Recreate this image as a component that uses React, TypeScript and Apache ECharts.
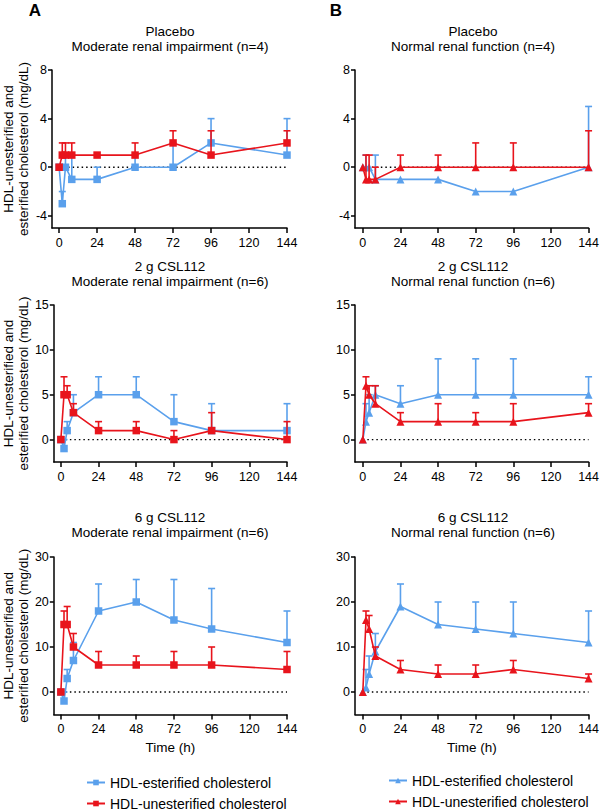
import React, { useEffect, useRef } from "react";
import * as echarts from "echarts";

const times = [0, 2, 4, 8, 24, 48, 72, 96, 144];
const xTicks = [0, 24, 48, 72, 96, 120, 144];

// Panel A (moderate renal impairment) — squares
const a1Est = [0, -3, 0, -1, -1, 0, 0, 2, 1];
const a1EstUp = [0, -2, 1, 1, 0, 1, 2, 4, 4];
const a1Unest = [0, 1, 1, 1, 1, 1, 2, 1, 2];
const a1UnestUp = [0, 2, 2, 2, 1, 2, 3, 3, 3];

const a2Est = [0, -1, 1, 3, 5, 5, 2, 1, 1];
const a2EstUp = [0, 0, 2, 5, 7, 7, 5, 4, 4];
const a2Unest = [0, 5, 5, 3, 1, 1, 0, 1, 0];
const a2UnestUp = [0, 7, 6, 4, 2, 2, 1, 3, 2];

const a3Est = [0, -2, 3, 7, 18, 20, 16, 14, 11];
const a3EstUp = [0, 0, 5, 11, 24, 25, 25, 23, 18];
const a3Unest = [0, 15, 15, 10, 6, 6, 6, 6, 5];
const a3UnestUp = [0, 18, 19, 13, 9, 8, 9, 10, 9];

// Panel B (normal renal function) — triangles
const b1Est = [0, 0, 0, -1, -1, -1, -2, -2, 0];
const b1EstUp = [0, 1, 0, 1, -1, -1, -2, -2, 5];
const b1Unest = [0, -1, -1, -1, 0, 0, 0, 0, 0];
const b1UnestUp = [0, 1, 1, 0, 1, 1, 2, 2, 3];

const b2Est = [0, 2, 3, 5, 4, 5, 5, 5, 5];
const b2EstUp = [0, 4, 5, 6, 6, 9, 9, 9, 7];
const b2Unest = [0, 6, 5, 4, 2, 2, 2, 2, 3];
const b2UnestUp = [0, 7, 6, 6, 3, 4, 3, 4, 4];

const b3Est = [0, 1, 4, 9, 19, 15, 14, 13, 11];
const b3EstUp = [0, 5, 8, 13, 24, 20, 20, 20, 18];
const b3Unest = [0, 16, 14, 8, 5, 4, 4, 5, 3];
const b3UnestUp = [0, 18, 17, 10, 7, 6, 6, 7, 4];

const rowYTicks = [
  [-4, 0, 4, 8],
  [0, 5, 10, 15],
  [0, 10, 20, 30],
];
const rowYMin = [-5, -2.5, -5];
const rowYMax = [8, 15, 30];

const titlesA = [
  ["Placebo", "Moderate renal impairment (n=4)"],
  ["2 g CSL112", "Moderate renal impairment (n=6)"],
  ["6 g CSL112", "Moderate renal impairment (n=6)"],
];
const titlesB = [
  ["Placebo", "Normal renal function (n=4)"],
  ["2 g CSL112", "Normal renal function (n=6)"],
  ["6 g CSL112", "Normal renal function (n=6)"],
];

const EST = "HDL-esterified cholesterol";
const UNEST = "HDL-unesterified cholesterol";

const BLUE = "#5AA0EC";
const RED = "#E8141C";
const FONT = "Liberation Sans, Arial, Helvetica, sans-serif";

const panels = [
  { col: 0, row: 0, est: a1Est, estUp: a1EstUp, un: a1Unest, unUp: a1UnestUp },
  { col: 0, row: 1, est: a2Est, estUp: a2EstUp, un: a2Unest, unUp: a2UnestUp },
  { col: 0, row: 2, est: a3Est, estUp: a3EstUp, un: a3Unest, unUp: a3UnestUp },
  { col: 1, row: 0, est: b1Est, estUp: b1EstUp, un: b1Unest, unUp: b1UnestUp },
  { col: 1, row: 1, est: b2Est, estUp: b2EstUp, un: b2Unest, unUp: b2UnestUp },
  { col: 1, row: 2, est: b3Est, estUp: b3EstUp, un: b3Unest, unUp: b3UnestUp },
];

const colLeft = [52, 355];
const colWidth = [235, 236];
const colXMin = [-4.5, -5];
const rowTop = [70, 305, 557];
const rowHeight = [158, 157, 157.5];
const titleY = [31, 266, 517];
const colCenter = [170, 473];

function errRender(color: string) {
  return (params: any, api: any) => {
    const x = api.value(0);
    const y = api.value(1);
    const up = api.value(2);
    if (!(up > y)) return null;
    const p0 = api.coord([x, y]);
    const p1 = api.coord([x, up]);
    return {
      type: "group",
      children: [
        {
          type: "line",
          shape: { x1: p0[0], y1: p0[1], x2: p1[0], y2: p1[1] },
          style: { stroke: color, lineWidth: 1.6 },
        },
        {
          type: "line",
          shape: { x1: p1[0] - 3.5, y1: p1[1], x2: p1[0] + 3.5, y2: p1[1] },
          style: { stroke: color, lineWidth: 1.6 },
        },
      ],
    };
  };
}

export default function App() {
  const ref = useRef<HTMLDivElement>(null);
  useEffect(() => {
    if (!ref.current) return;
    const chart = echarts.init(ref.current, null, { renderer: "svg" });

    const grid: any[] = [];
    const xAxis: any[] = [];
    const yAxis: any[] = [];
    const series: any[] = [];

    panels.forEach((p, i) => {
      grid.push({
        left: colLeft[p.col],
        top: rowTop[p.row],
        width: colWidth[p.col],
        height: rowHeight[p.row],
        containLabel: false,
      });
      xAxis.push({
        type: "value",
        gridIndex: i,
        min: colXMin[p.col],
        max: 144,
        axisLine: { onZero: false, lineStyle: { color: "#000", width: 1.5 } },
        axisTick: { length: 5, lineStyle: { color: "#000", width: 1.5 }, customValues: xTicks },
        axisLabel: { color: "#000", fontSize: 12.5, fontFamily: FONT, margin: 8, customValues: xTicks },
        splitLine: { show: false },
        name: p.row === 2 ? "Time (h)" : "",
        nameLocation: "middle",
        nameGap: 26,
        nameTextStyle: { color: "#000", fontSize: 13.5, fontFamily: FONT },
      });
      yAxis.push({
        type: "value",
        gridIndex: i,
        min: rowYMin[p.row],
        max: rowYMax[p.row],
        axisLine: { show: true, onZero: false, lineStyle: { color: "#000", width: 1.5 } },
        axisTick: { show: true, length: 4, lineStyle: { color: "#000", width: 1.5 }, customValues: rowYTicks[p.row] },
        axisLabel: { color: "#000", fontSize: 12.5, fontFamily: FONT, margin: 5, customValues: rowYTicks[p.row] },
        splitLine: { show: false },
        name: p.col === 0 ? "HDL-unesterified and\nesterified cholesterol (mg/dL)" : "",
        nameLocation: "middle",
        nameRotate: 90,
        nameGap: 21,
        nameTextStyle: { color: "#000", fontSize: 13.5, fontFamily: FONT, lineHeight: 15 },
      });

      const prefix = p.col === 0 ? "A|" : "B|";
      const symbol = p.col === 0 ? "rect" : "triangle";
      const symbolSize = p.col === 0 ? 7.5 : 8;

      series.push({
        type: "line",
        xAxisIndex: i,
        yAxisIndex: i,
        data: [
          [times[0], 0],
          [times[times.length - 1], 0],
        ],
        symbol: "none",
        lineStyle: { color: "#000", width: 1.3, type: [1.5, 3] },
        silent: true,
        z: 1,
      });
      series.push({
        type: "custom",
        xAxisIndex: i,
        yAxisIndex: i,
        renderItem: errRender(BLUE),
        encode: { x: 0, y: [1, 2] },
        data: times.map((t, k) => [t, p.est[k], p.estUp[k]]),
        z: 2,
      });
      series.push({
        type: "line",
        name: prefix + EST,
        xAxisIndex: i,
        yAxisIndex: i,
        data: times.map((t, k) => [t, p.est[k]]),
        symbol,
        symbolSize,
        color: BLUE,
        itemStyle: { color: BLUE },
        lineStyle: { color: BLUE, width: 1.6 },
        z: 3,
      });
      series.push({
        type: "custom",
        xAxisIndex: i,
        yAxisIndex: i,
        renderItem: errRender(RED),
        encode: { x: 0, y: [1, 2] },
        data: times.map((t, k) => [t, p.un[k], p.unUp[k]]),
        z: 4,
      });
      series.push({
        type: "line",
        name: prefix + UNEST,
        xAxisIndex: i,
        yAxisIndex: i,
        data: times.map((t, k) => [t, p.un[k]]),
        symbol,
        symbolSize,
        color: RED,
        itemStyle: { color: RED },
        lineStyle: { color: RED, width: 1.6 },
        z: 5,
      });
    });

    const graphic: any[] = [];
    [titlesA, titlesB].forEach((titles, c) => {
      titles.forEach((t, r) => {
        graphic.push({
          type: "text",
          x: colCenter[c],
          y: titleY[r],
          style: { text: t[0], align: "center", verticalAlign: "middle", fill: "#000", font: `13.5px ${FONT}` },
        });
        graphic.push({
          type: "text",
          x: colCenter[c],
          y: titleY[r] + 15,
          style: { text: t[1], align: "center", verticalAlign: "middle", fill: "#000", font: `13.5px ${FONT}` },
        });
      });
    });
    graphic.push({
      type: "text",
      x: 35,
      y: 10,
      style: { text: "A", align: "center", verticalAlign: "middle", fill: "#000", font: `bold 17px ${FONT}` },
    });
    graphic.push({
      type: "text",
      x: 336,
      y: 10,
      style: { text: "B", align: "center", verticalAlign: "middle", fill: "#000", font: `bold 17px ${FONT}` },
    });

    const legendCommon = {
      orient: "vertical",
      itemWidth: 18,
      itemHeight: 7,
      itemGap: 6,
      padding: 0,
      height: 60,
      selectedMode: false,
      formatter: (name: string) => name.split("|")[1],
      textStyle: { color: "#000", fontSize: 14, fontFamily: FONT, lineHeight: 15 },
    };

    chart.setOption({
      animation: false,
      backgroundColor: "#fff",
      grid,
      xAxis,
      yAxis,
      series,
      graphic,
      legend: [
        { ...legendCommon, left: 86, top: 775, data: ["A|" + EST, "A|" + UNEST] },
        { ...legendCommon, left: 388, top: 773, data: ["B|" + EST, "B|" + UNEST] },
      ],
    });
    return () => chart.dispose();
  }, []);

  return (
    <div
      ref={ref}
      style={{ position: "absolute", left: 0, top: 0, width: 602, height: 811, background: "#fff" }}
    />
  );
}
